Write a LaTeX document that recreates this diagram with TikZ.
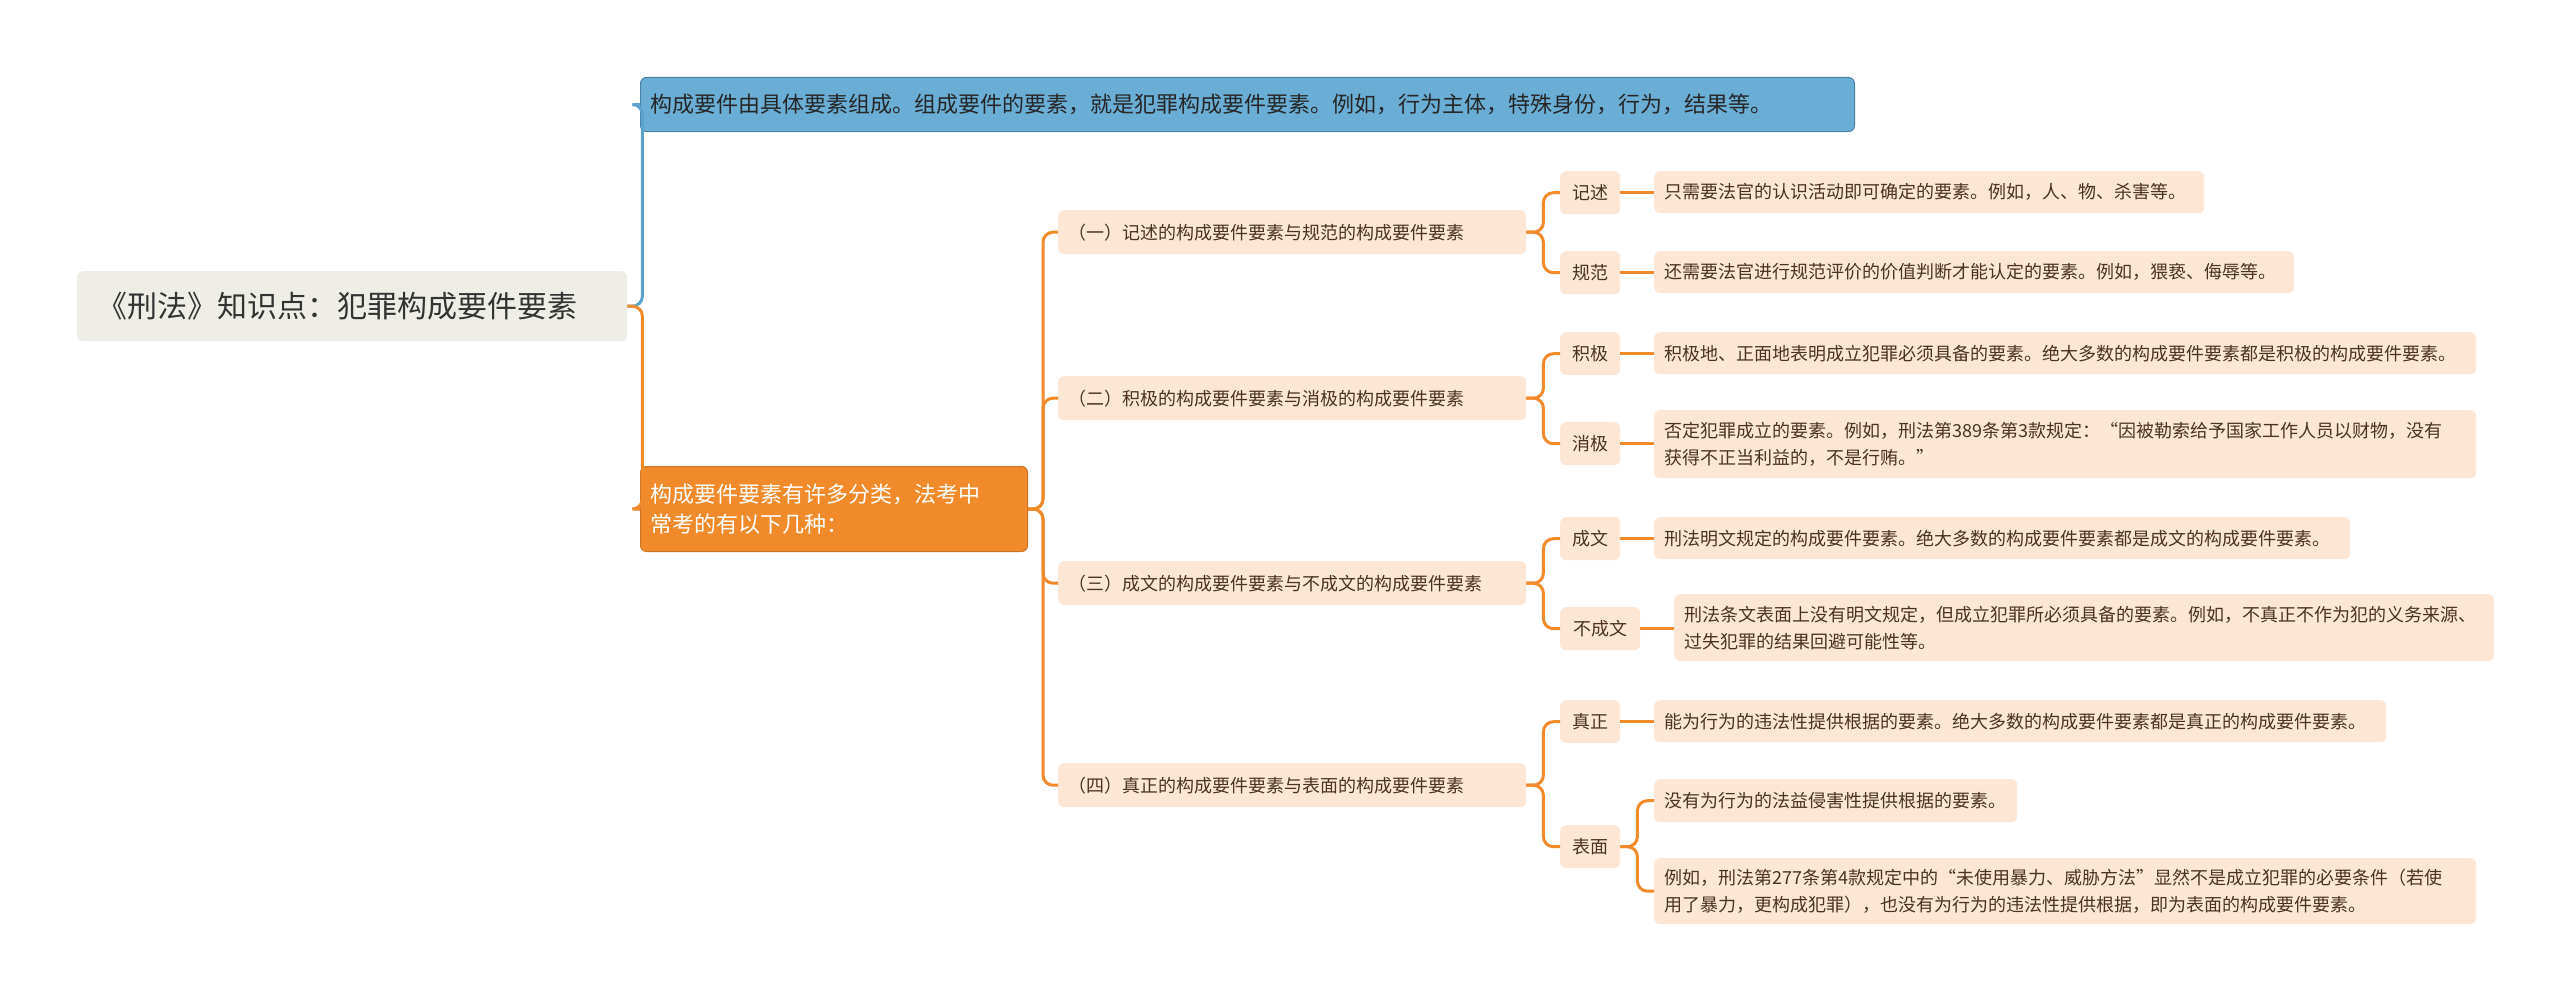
\documentclass[tikz,border=0pt]{standalone}
\usepackage{fontspec}
\setmainfont{Noto Sans CJK SC}
\XeTeXlinebreaklocale "zh"
\XeTeXlinebreakskip=0pt plus 1pt
\definecolor{org}{HTML}{F08A2A}
\definecolor{lf}{HTML}{FDE6D4}
\definecolor{lft}{HTML}{4A3320}
\definecolor{blu}{HTML}{6AAED6}
\definecolor{blul}{HTML}{5BA3CF}
\definecolor{rootc}{HTML}{EEEEE6}
\begin{document}
\begin{tikzpicture}[x=1pt,y=-1pt,
  bx/.style={anchor=north west,rounded corners=6pt,inner xsep=10pt,inner ysep=4pt,align=left,font=\fontsize{18}{27}\selectfont,text=lft,fill=lf},
  lnk/.style={draw=org,line width=3pt,rounded corners=10pt},
  lnkb/.style={draw=blul,line width=3pt,rounded corners=10pt}]
\useasboundingbox[fill=white] (0,0) rectangle (2560,998);
\node[bx,fill=rootc,text=black!80,font=\fontsize{30}{36}\selectfont,minimum width=530pt,minimum height=70pt,text width=510pt,inner xsep=20pt] (root) at (77,271) {《刑法》知识点：犯罪构成要件要素};
\node[bx,fill=blu,draw=blul!80!black,line width=1pt,font=\fontsize{22}{30}\selectfont,text=black!85,minimum width=1214pt,minimum height=54pt,text width=1194pt] (blue) at (640,77) {构成要件由具体要素组成。组成要件的要素，就是犯罪构成要件要素。例如，行为主体，特殊身份，行为，结果等。};
\node[bx,fill=org,draw=org!85!black,line width=1pt,font=\fontsize{22}{30}\selectfont,text=white,minimum width=387pt,minimum height=85pt,text width=367pt] (or) at (640,466) {构成要件要素有许多分类，法考中\\常考的有以下几种：};
% level 2
\foreach \n/\y/\t in {a/210/（一）记述的构成要件要素与规范的构成要件要素,b/376/（二）积极的构成要件要素与消极的构成要件要素,c/561/（三）成文的构成要件要素与不成文的构成要件要素,d/763/（四）真正的构成要件要素与表面的构成要件要素}
  \node[bx,minimum width=468pt,minimum height=44pt,text width=448pt] (\n) at (1058,\y) {\t};
% level 3
\foreach \n/\y/\w/\t in {a1/171/60/记述,a2/251/60/规范,b1/332/60/积极,b2/422/60/消极,c1/517/60/成文,c2/607/80/不成文,d1/700/60/真正,d2/825/60/表面}
  \node[bx,minimum width=\w pt,minimum height=43pt,inner xsep=8pt] (\n) at (1560,\y) {\t};
% leaves
\node[bx,minimum width=550pt,minimum height=42pt,text width=530pt] (la1) at (1654,171) {只需要法官的认识活动即可确定的要素。例如，人、物、杀害等。};
\node[bx,minimum width=640pt,minimum height=42pt,text width=620pt] (la2) at (1654,251) {还需要法官进行规范评价的价值判断才能认定的要素。例如，猥亵、侮辱等。};
\node[bx,minimum width=822pt,minimum height=42pt,text width=802pt] (lb1) at (1654,332) {积极地、正面地表明成立犯罪必须具备的要素。绝大多数的构成要件要素都是积极的构成要件要素。};
\node[bx,minimum width=822pt,minimum height=68pt,text width=802pt] (lb2) at (1654,410) {否定犯罪成立的要素。例如，刑法第389条第3款规定：“因被勒索给予国家工作人员以财物，没有\\获得不正当利益的，不是行贿。”};
\node[bx,minimum width=696pt,minimum height=42pt,text width=676pt] (lc1) at (1654,517) {刑法明文规定的构成要件要素。绝大多数的构成要件要素都是成文的构成要件要素。};
\node[bx,minimum width=820pt,minimum height=67pt,text width=800pt] (lc2) at (1674,594) {刑法条文表面上没有明文规定，但成立犯罪所必须具备的要素。例如，不真正不作为犯的义务来源、\\过失犯罪的结果回避可能性等。};
\node[bx,minimum width=732pt,minimum height=42pt,text width=712pt] (ld1) at (1654,700) {能为行为的违法性提供根据的要素。绝大多数的构成要件要素都是真正的构成要件要素。};
\node[bx,minimum width=363pt,minimum height=43pt,text width=343pt] (ld2) at (1654,779) {没有为行为的法益侵害性提供根据的要素。};
\node[bx,minimum width=822pt,minimum height=66pt,text width=802pt] (ld3) at (1654,858) {例如，刑法第277条第4款规定中的“未使用暴力、威胁方法”显然不是成立犯罪的必要条件（若使\\用了暴力，更构成犯罪），也没有为行为的违法性提供根据，即为表面的构成要件要素。};
% connectors
\draw[lnkb] (root.east) -- ++(15,0) |- (blue.west);
\draw[lnk] (root.east) -- ++(15,0) |- (or.west);
\foreach \n in {a,b,c,d} \draw[lnk] (or.east) -- ++(15,0) |- (\n.west);
\foreach \p/\q in {a/a1,a/a2,b/b1,b/b2,c/c1,c/c2,d/d1,d/d2} \draw[lnk] (\p.east) -- ++(17,0) |- (\q.west);
\foreach \p/\q in {a1/la1,a2/la2,b1/lb1,b2/lb2,c1/lc1,c2/lc2,d1/ld1} \draw[lnk] (\p.east) -- (\q.west |- \p.east);
\foreach \q in {ld2,ld3} \draw[lnk] (d2.east) -- ++(17,0) |- (\q.west);
\end{tikzpicture}
\end{document}
